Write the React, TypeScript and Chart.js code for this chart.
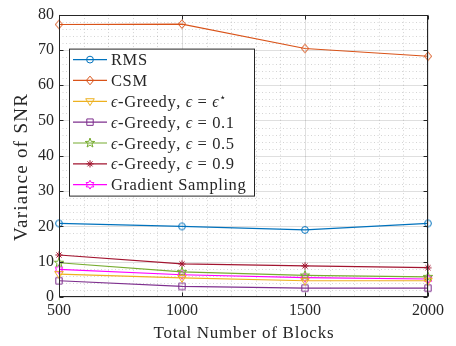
import React, { useEffect, useRef } from "react";
import { Chart, registerables } from "chart.js";
Chart.register(...registerables);

const blocks = [500, 1000, 1500, 2000];
const xTicks = [500, 1000, 1500, 2000];
const yTicks = [0, 10, 20, 30, 40, 50, 60, 70, 80];

const rms = [20.85, 20.0, 19.0, 20.85];
const csm = [77.2, 77.3, 70.4, 68.2];
const greedyStar = [6.5, 5.4, 4.6, 4.6];
const greedy01 = [4.6, 3.0, 2.5, 2.5];
const greedy05 = [9.7, 7.1, 6.1, 5.7];
const greedy09 = [11.9, 9.4, 8.8, 8.3];
const gradient = [7.8, 6.3, 5.5, 5.1];

const seriesValues = [rms, csm, greedyStar, greedy01, greedy05, greedy09, gradient];
const seriesNames = [
  "RMS",
  "CSM",
  "ϵ-Greedy, ϵ = ϵ⋆",
  "ϵ-Greedy, ϵ = 0.1",
  "ϵ-Greedy, ϵ = 0.5",
  "ϵ-Greedy, ϵ = 0.9",
  "Gradient Sampling",
];
const seriesColors = ["#0072BD", "#D95319", "#EDB120", "#7E2F8E", "#77AC30", "#A2142F", "#FF00FF"];
const seriesMarkers = ["circle", "diamond", "triangleDown", "square", "pentagram", "asterisk", "hexagram"];

const xTitle = "Total Number of Blocks";
const yTitle = "Variance of SNR";

const FONT = "'Liberation Serif', 'DejaVu Serif', serif";
const TEXT = "#262626";

function starPath(ctx: CanvasRenderingContext2D, cx: number, cy: number, n: number, ro: number, ri: number) {
  for (let i = 0; i < n * 2; i++) {
    const r = i % 2 === 0 ? ro : ri;
    const a = -Math.PI / 2 + (i * Math.PI) / n;
    const px = cx + r * Math.cos(a);
    const py = cy + r * Math.sin(a);
    if (i === 0) ctx.moveTo(px, py);
    else ctx.lineTo(px, py);
  }
  ctx.closePath();
}

function drawMarker(ctx: CanvasRenderingContext2D, kind: string, cx: number, cy: number, color: string) {
  ctx.save();
  ctx.strokeStyle = color;
  ctx.lineWidth = 1;
  ctx.setLineDash([]);
  ctx.beginPath();
  switch (kind) {
    case "circle":
      ctx.arc(cx, cy, 3.4, 0, Math.PI * 2);
      break;
    case "diamond": {
      const r = 4.3;
      ctx.moveTo(cx, cy - r);
      ctx.lineTo(cx + r * 0.85, cy);
      ctx.lineTo(cx, cy + r);
      ctx.lineTo(cx - r * 0.85, cy);
      ctx.closePath();
      break;
    }
    case "triangleDown": {
      const r = 4.3;
      ctx.moveTo(cx - r, cy - r * 0.6);
      ctx.lineTo(cx + r, cy - r * 0.6);
      ctx.lineTo(cx, cy + r);
      ctx.closePath();
      break;
    }
    case "square":
      ctx.rect(cx - 3.2, cy - 3.2, 6.4, 6.4);
      break;
    case "pentagram":
      starPath(ctx, cx, cy, 5, 5, 2);
      break;
    case "hexagram":
      starPath(ctx, cx, cy, 6, 4.4, 2.55);
      break;
    case "asterisk": {
      const r = 3.6;
      const d = r * 0.7071;
      ctx.moveTo(cx - r, cy);
      ctx.lineTo(cx + r, cy);
      ctx.moveTo(cx, cy - r);
      ctx.lineTo(cx, cy + r);
      ctx.moveTo(cx - d, cy - d);
      ctx.lineTo(cx + d, cy + d);
      ctx.moveTo(cx - d, cy + d);
      ctx.lineTo(cx + d, cy - d);
      break;
    }
  }
  ctx.stroke();
  ctx.restore();
}

function markerCanvas(kind: string, color: string): HTMLCanvasElement {
  const c = document.createElement("canvas");
  c.width = 14;
  c.height = 14;
  const cx = c.getContext("2d")!;
  drawMarker(cx, kind, 7, 7, color);
  return c;
}

function fitText(ctx: CanvasRenderingContext2D, text: string, x: number, y: number, target: number) {
  (ctx as any).letterSpacing = "0px";
  const w = ctx.measureText(text).width;
  const sp = (target - w) / Math.max(1, text.length - 1);
  (ctx as any).letterSpacing = sp + "px";
  ctx.textAlign = "left";
  ctx.fillText(text, x - target / 2, y);
  (ctx as any).letterSpacing = "0px";
}

function drawLegendText(ctx: CanvasRenderingContext2D, text: string, x: number, y: number) {
  let cx = x;
  (ctx as any).letterSpacing = "0.6px";
  ctx.textAlign = "left";
  ctx.textBaseline = "alphabetic";
  for (const ch of Array.from(text)) {
    let dy = 0;
    if (ch === "ϵ") ctx.font = `italic 16px ${FONT}`;
    else if (ch === "⋆") {
      ctx.font = `11px 'DejaVu Sans', ${FONT}`;
      dy = -6;
    } else ctx.font = `16.5px ${FONT}`;
    ctx.fillText(ch, cx, y + dy);
    cx += ctx.measureText(ch).width;
  }
  (ctx as any).letterSpacing = "0px";
}

const decorPlugin = {
  id: "decor",
  beforeDatasetsDraw(chart: any) {
    const { ctx, chartArea, scales } = chart;
    const { left, right, top, bottom } = chartArea;
    const xs = scales.x;
    const ys = scales.y;
    ctx.save();
    ctx.lineWidth = 1;
    // minor grid
    ctx.strokeStyle = "rgba(38,38,38,0.2)";
    ctx.setLineDash([1, 2.5]);
    for (let v = xs.min; v <= xs.max; v += 100) {
      if (xTicks.includes(v)) continue;
      const p = Math.round(xs.getPixelForValue(v)) + 0.5;
      ctx.beginPath();
      ctx.moveTo(p, top);
      ctx.lineTo(p, bottom);
      ctx.stroke();
    }
    for (let v = ys.min; v <= ys.max; v += 2) {
      if (yTicks.includes(v)) continue;
      const p = Math.round(ys.getPixelForValue(v)) + 0.5;
      ctx.beginPath();
      ctx.moveTo(left, p);
      ctx.lineTo(right, p);
      ctx.stroke();
    }
    // major grid
    ctx.setLineDash([]);
    ctx.strokeStyle = "rgba(38,38,38,0.15)";
    for (const v of xTicks) {
      const p = Math.round(xs.getPixelForValue(v)) + 0.5;
      ctx.beginPath();
      ctx.moveTo(p, top);
      ctx.lineTo(p, bottom);
      ctx.stroke();
    }
    for (const v of yTicks) {
      const p = Math.round(ys.getPixelForValue(v)) + 0.5;
      ctx.beginPath();
      ctx.moveTo(left, p);
      ctx.lineTo(right, p);
      ctx.stroke();
    }
    ctx.restore();
  },
  afterDatasetsDraw(chart: any) {
    const { ctx, chartArea, scales } = chart;
    const { left, right, top, bottom } = chartArea;
    const xs = scales.x;
    const ys = scales.y;
    ctx.save();
    ctx.setLineDash([]);
    ctx.strokeStyle = TEXT;
    ctx.lineWidth = 1;
    const L = Math.round(left) + 0.5;
    const R = Math.round(right) - 0.5;
    const T = Math.round(top) + 0.5;
    const B = Math.round(bottom) - 0.5;
    ctx.strokeRect(L, T, R - L, B - T);
    const tl = 4;
    for (const v of xTicks) {
      const p = Math.round(xs.getPixelForValue(v)) + 0.5;
      ctx.beginPath();
      ctx.moveTo(p, B);
      ctx.lineTo(p, B - tl);
      ctx.moveTo(p, T);
      ctx.lineTo(p, T + tl);
      ctx.stroke();
    }
    for (const v of yTicks) {
      const p = Math.round(ys.getPixelForValue(v)) + 0.5;
      ctx.beginPath();
      ctx.moveTo(L, p);
      ctx.lineTo(L + tl, p);
      ctx.moveTo(R, p);
      ctx.lineTo(R - tl, p);
      ctx.stroke();
    }

    // axis titles
    ctx.fillStyle = TEXT;
    ctx.textBaseline = "alphabetic";
    ctx.font = `17px ${FONT}`;
    fitText(ctx, xTitle, (left + right) / 2, 337.5, 180);
    ctx.save();
    ctx.translate(26.5, 167.5);
    ctx.rotate(-Math.PI / 2);
    ctx.font = `19px ${FONT}`;
    fitText(ctx, yTitle, 0, 0, 147);
    ctx.restore();

    // legend
    const lx = left + 10.5;
    const ly = top + 34.5;
    const lw = 185;
    const lh = 147;
    ctx.fillStyle = "#ffffff";
    ctx.fillRect(lx, ly, lw, lh);
    ctx.strokeStyle = TEXT;
    ctx.strokeRect(lx, ly, lw, lh);
    seriesNames.forEach((name, i) => {
      const cy = ly + 10.5 + i * 20.85;
      const color = seriesColors[i];
      ctx.strokeStyle = color;
      ctx.lineWidth = 1.2;
      ctx.beginPath();
      ctx.moveTo(lx + 3.5, cy);
      ctx.lineTo(lx + 37.5, cy);
      ctx.stroke();
      drawMarker(ctx, seriesMarkers[i], lx + 20.5, cy, color);
      ctx.fillStyle = TEXT;
      drawLegendText(ctx, name, lx + 41.5, cy + 5.5);
    });
    ctx.restore();
  },
};

export default function App() {
  const ref = useRef<HTMLCanvasElement>(null);
  useEffect(() => {
    const canvas = ref.current!;
    const datasets = seriesValues.map((vals, i) => ({
      label: seriesNames[i],
      data: blocks.map((b, j) => ({ x: b, y: vals[j] })),
      borderColor: seriesColors[i],
      backgroundColor: seriesColors[i],
      borderWidth: 1.2,
      pointStyle: markerCanvas(seriesMarkers[i], seriesColors[i]),
      pointRadius: 4,
      tension: 0,
      fill: false,
      clip: false as any,
    }));
    const chart = new Chart(canvas, {
      type: "line",
      data: { datasets },
      options: {
        animation: false,
        responsive: false,
        devicePixelRatio: 1,
        layout: { padding: { left: 0, right: 28, top: 14, bottom: 0 } },
        plugins: { legend: { display: false }, tooltip: { enabled: false } },
        scales: {
          x: {
            type: "linear",
            min: 500,
            max: 2000,
            afterBuildTicks: (s: any) => {
              s.ticks = xTicks.map((v) => ({ value: v }));
            },
            afterFit: (s: any) => {
              s.height = 49;
            },
            ticks: {
              font: { family: FONT, size: 16 },
              color: TEXT,
              padding: 4,
              maxRotation: 0,
              autoSkip: false,
              callback: (v: any) => String(v),
            },
            grid: { display: false, drawTicks: false },
            border: { display: false },
          },
          y: {
            type: "linear",
            min: 0,
            max: 80,
            afterBuildTicks: (s: any) => {
              s.ticks = yTicks.map((v) => ({ value: v }));
            },
            afterFit: (s: any) => {
              s.width = 59;
            },
            ticks: {
              font: { family: FONT, size: 16 },
              color: TEXT,
              padding: 5,
              autoSkip: false,
              callback: (v: any) => String(v),
            },
            grid: { display: false, drawTicks: false },
            border: { display: false },
          },
        },
      },
      plugins: [decorPlugin],
    });
    return () => chart.destroy();
  }, []);
  return (
    <div style={{ position: "absolute", left: 0, top: 0, width: 456, height: 346, background: "#fff" }}>
      <canvas ref={ref} width={456} height={346} style={{ display: "block" }} />
    </div>
  );
}
